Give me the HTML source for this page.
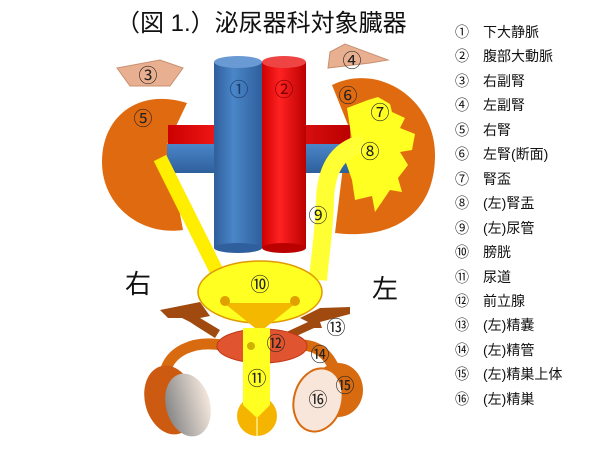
<!DOCTYPE html>
<html><head><meta charset="utf-8"><style>
html,body{margin:0;padding:0;background:#fff;}
svg{display:block;font-family:"Liberation Sans","Noto Sans CJK JP",sans-serif;}
</style></head><body>
<svg width="600" height="450" viewBox="0 0 600 450" xmlns="http://www.w3.org/2000/svg">
<defs>
<linearGradient id="bl" x1="0" x2="1"><stop offset="0" stop-color="#2f5f9c"/><stop offset=".4" stop-color="#4a86c8"/><stop offset="1" stop-color="#2f5f9c"/></linearGradient>
<linearGradient id="rd" x1="0" x2="1"><stop offset="0" stop-color="#c00"/><stop offset=".4" stop-color="#f22"/><stop offset="1" stop-color="#b00"/></linearGradient>
<linearGradient id="blh" x1="0" y1="0" x2="0" y2="1"><stop offset="0" stop-color="#4a86c8"/><stop offset="1" stop-color="#2f5f9c"/></linearGradient>
<linearGradient id="ts" x1="0" x2="1"><stop offset="0" stop-color="#888"/><stop offset="1" stop-color="#f3e6dc"/></linearGradient>
</defs>
<text x="116" y="31" font-size="24" fill="#111">（図 1.）泌尿器科対象臓器</text>

<!-- kidneys -->
<path d="M187,103 L167,145 L183,230 C140,236 102,205 102,162 C102,115 140,88 187,103 Z" fill="#e06a10"/>
<path d="M332,85 C380,62 435,100 435,155 C435,215 392,240 335,233 L348,125 Z" fill="#e06a10"/>
<!-- adrenals -->
<polygon points="117,68 160,60 183,68 170,86 130,86" fill="#e8b090" stroke="#c89070"/>
<polygon points="330,52 345,44 388,60 370,63 328,68" fill="#e8b090" stroke="#c89070"/>
<!-- horizontal vessels -->
<rect x="168" y="125" width="182" height="19" fill="url(#rd)"/>
<rect x="167" y="144" width="186" height="29" fill="url(#blh)"/>
<!-- vertical vessels -->
<rect x="262" y="62" width="44" height="186" fill="url(#rd)"/>
<ellipse cx="284" cy="62" rx="22" ry="6" fill="#ee4444"/>
<ellipse cx="284" cy="248" rx="22" ry="5" fill="#b00"/>
<rect x="214" y="62" width="48" height="186" fill="url(#bl)"/>
<ellipse cx="238" cy="62" rx="24" ry="6" fill="#6a9ad4"/>
<ellipse cx="238" cy="248" rx="24" ry="5" fill="#2f5f9c"/>
<rect x="306" y="144" width="47" height="29" fill="url(#blh)"/>
<!-- pelvis star -->
<polygon points="347,108 368,100 378,97 390,104 392,112 405,118 400,128 415,134 412,150 400,152 408,165 398,178 402,192 390,190 375,212 372,196 355,200 352,180 345,160 352,140" fill="#ffff22"/>
<!-- ureters -->
<path d="M160,158 L220,278" stroke="#ffee00" stroke-width="14" fill="none"/>
<path d="M364,143 C335,150 326,172 325,200 C324,235 320,255 318,280" stroke="#ffff33" stroke-width="18" fill="none"/>
<!-- seminal vesicles -->
<polygon points="160,310 200,302 210,316 200,318 220,330 215,338 196,326 190,322 182,318 168,318" fill="#a04a10"/>
<polygon points="350,307 320,308 300,318 308,322 282,334 292,338 314,328 322,328 320,322 350,314" fill="#a04a10"/>
<!-- vas -->
<path d="M222,345 C192,340 170,352 165,372" stroke="#d86a10" stroke-width="11" fill="none"/>
<path d="M300,345 C322,345 332,360 337,376" stroke="#d86a10" stroke-width="11" fill="none"/>
<!-- bladder -->
<ellipse cx="260" cy="292" rx="62" ry="31" fill="#ffff22" stroke="#e09a00" stroke-width="1.5"/>
<polygon points="224,303 296,303 260,332" fill="#f5b800"/>
<circle cx="225" cy="301" r="5" fill="#e0a000"/><circle cx="295" cy="301" r="5" fill="#e0a000"/>
<!-- prostate -->
<ellipse cx="262" cy="346" rx="45" ry="17" fill="#e05530" stroke="#c03818"/>
<!-- urethra -->
<circle cx="257" cy="416" r="20" fill="#f4b400"/>
<polygon points="243,328 270,328 270,405 257,418 243,405" fill="#ffff22"/>
<line x1="257" y1="418" x2="257" y2="436" stroke="#ffe060" stroke-width="2"/>
<circle cx="251" cy="346" r="4" fill="#d0b000"/>
<!-- testes -->
<ellipse cx="170" cy="400" rx="25" ry="35" fill="#cc5a10" transform="rotate(-15 170 400)"/>
<ellipse cx="188" cy="405" rx="22" ry="32" fill="url(#ts)" transform="rotate(-15 188 405)"/>
<ellipse cx="338" cy="390" rx="25" ry="27" fill="#d86a10"/>
<ellipse cx="318" cy="400" rx="24" ry="32" fill="#f8e6da" stroke="#d86a10" stroke-width="2" transform="rotate(15 318 400)"/>

<g font-size="19" text-anchor="middle" fill="#222">
<text x="148" y="82">③</text><text x="352" y="67">④</text>
<text x="143" y="125">⑤</text><text x="348" y="102">⑥</text>
<text x="380" y="119">⑦</text><text x="370" y="158">⑧</text>
<text x="239" y="96" fill="#1a3a6a">①</text><text x="284" y="96" fill="#700">②</text>
<text x="318" y="222">⑨</text><text x="260" y="291">⑩</text>
<text x="257" y="385">⑪</text><text x="276" y="350">⑫</text>
<text x="336" y="334">⑬</text><text x="320" y="361">⑭</text>
<text x="345" y="392">⑮</text><text x="318" y="406">⑯</text>
</g>
<text x="125" y="293" font-size="26" fill="#111">右</text>
<text x="372" y="298" font-size="26" fill="#111">左</text>

<g font-size="14" fill="#111">
<text x="455" y="37">①　下大静脈</text>
<text x="455" y="61">②　腹部大動脈</text>
<text x="455" y="86">③　右副腎</text>
<text x="455" y="110">④　左副腎</text>
<text x="455" y="135">⑤　右腎</text>
<text x="455" y="159">⑥　左腎(断面)</text>
<text x="455" y="184">⑦　腎盃</text>
<text x="455" y="208">⑧　(左)腎盂</text>
<text x="455" y="233">⑨　(左)尿管</text>
<text x="455" y="257">⑩　膀胱</text>
<text x="455" y="282">⑪　尿道</text>
<text x="455" y="306">⑫　前立腺</text>
<text x="455" y="330">⑬　(左)精嚢</text>
<text x="455" y="355">⑭　(左)精管</text>
<text x="455" y="379">⑮　(左)精巣上体</text>
<text x="455" y="404">⑯　(左)精巣</text>
</g>
</svg>
</body></html>
